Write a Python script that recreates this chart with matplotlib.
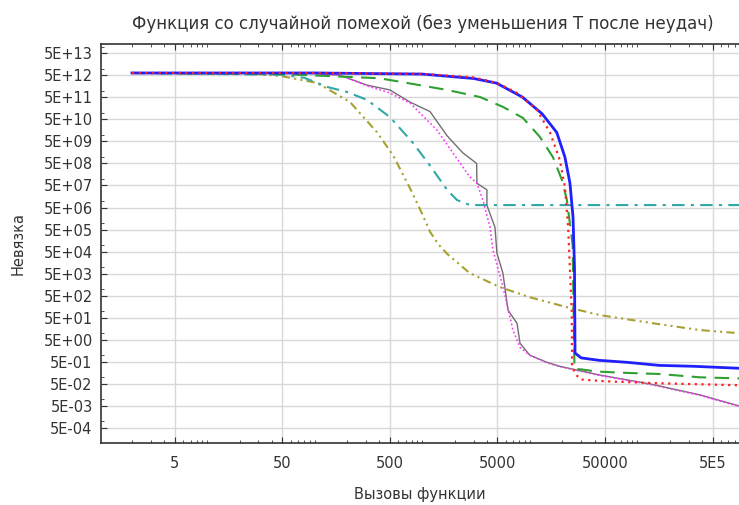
import numpy as np
import matplotlib
matplotlib.use("Agg")
import matplotlib.pyplot as plt
from matplotlib.ticker import FixedLocator, FixedFormatter, LogLocator, NullFormatter

# values: x = function calls, y given as log10 of the residual
blue_x = [2, 100, 1000, 3000, 4900, 8500, 13000, 17800, 21200, 23600, 25200, 26000, 26300,
          30000, 44000, 80000, 1.6e5, 3.3e5, 8.8e5]
blue_ly = [12.8, 12.8, 12.75, 12.55, 12.34, 11.71, 10.95, 10.1, 8.98, 7.8, 6.26, 4.0, 0.1,
           -0.12, -0.23, -0.32, -0.46, -0.5, -0.59]

red_x = [2, 100, 1000, 3000, 5000, 7600, 11700, 15500, 19000, 21200, 22700, 24500, 24700,
         27000, 30000, 50000, 1.6e5, 8.8e5]
red_ly = [12.8, 12.8, 12.76, 12.6, 12.34, 11.89, 11.12, 10.07, 8.85, 7.62, 5.8, 2.0, -0.5,
          -0.9, -1.1, -1.18, -1.27, -1.36]

green_x = [2, 50, 400, 660, 1700, 3440, 5630, 8630, 12400, 16400, 19900, 22100, 25000, 26000,
           30000, 42000, 80000, 1.6e5, 3.8e5, 8.8e5]
green_ly = [12.8, 12.75, 12.56, 12.38, 12.03, 11.71, 11.26, 10.76, 9.9, 8.98, 7.94, 7.04, 5.0, -0.62,
            -0.64, -0.74, -0.8, -0.85, -1.0, -1.05]

teal_x = [2, 50, 80, 130, 199, 306, 500, 819, 1180, 1700, 2100, 2770, 8.8e5]
teal_ly = [12.8, 12.72, 12.58, 12.17, 11.94, 11.58, 10.8, 9.63, 8.6, 7.5, 7.04, 6.81, 6.81]

olive_x = [2, 30, 50, 105, 212, 378, 533, 768, 1000, 1180, 1400, 1700, 2770, 5270, 10000,
           22100, 44900, 140000, 383000, 883000]
olive_ly = [12.8, 12.75, 12.65, 12.35, 11.49, 10.12, 9.08, 7.58, 6.4, 5.6, 5.05, 4.6, 3.72,
            3.09, 2.63, 2.18, 1.82, 1.45, 1.14, 1.0]

gray_x = [2, 100, 171, 306, 500, 768, 1180, 1700, 2390, 3200, 3220, 3990, 3990, 4740, 4940,
          5620, 6270, 7600, 8100, 10000, 14400, 19000, 44900, 131000, 383000, 883000]
gray_ly = [12.8, 12.78, 12.7, 12.25, 12.03, 11.48, 11.05, 9.95, 9.17, 8.7, 7.8, 7.5, 6.8, 5.8,
           4.63, 3.72, 2.04, 1.45, 0.54, 0.0, -0.32, -0.5, -0.9, -1.3, -1.8, -2.3]

magenta_x = [2, 100, 171, 306, 500, 768, 1370, 1930, 2770, 3220, 3660, 4260, 4540, 5630,
             6960, 8100, 10000, 14400, 19000, 44900, 131000, 383000, 883000]
magenta_ly = [12.8, 12.78, 12.7, 12.22, 11.89, 11.44, 10.21, 9.17, 8.08, 7.8, 7.04, 5.81, 4.77,
              3.09, 1.14, 0.36, 0.0, -0.34, -0.52, -0.92, -1.32, -1.82, -2.32]

x_ticks = [5, 50, 500, 5000, 50000, 5e5]
x_tick_labels = ["5", "50", "500", "5000", "50000", "5E5"]
y_exps = list(range(-4, 14))

title = "Функция со случайной помехой (без уменьшения T после неудач)"
xlabel = "Вызовы функции"
ylabel = "Невязка"

fig = plt.figure(figsize=(7.39, 5.05), dpi=100)
ax = fig.add_axes([101 / 739, 62 / 505, 638 / 739, 399 / 505])

tc = "#333333"
ax.plot(gray_x, 10.0 ** np.array(gray_ly), color="#707070", lw=1.0)
ax.plot(magenta_x, 10.0 ** np.array(magenta_ly), color="#ff33ff", lw=1.2, ls=(0, (1, 1.5)))
ax.plot(olive_x, 10.0 ** np.array(olive_ly), color="#a8a030", lw=1.5,
        ls=(0, (4, 2, 1, 2, 1, 2)))
ax.plot(teal_x, 10.0 ** np.array(teal_ly), color="#30a8a8", lw=1.5, ls=(0, (6, 3, 1.5, 3)))
ax.plot(green_x, 10.0 ** np.array(green_ly), color="#30a030", lw=1.5, ls=(0, (7, 4)))
ax.plot(blue_x, 10.0 ** np.array(blue_ly), color="#2020ff", lw=2.0)
ax.plot(red_x, 10.0 ** np.array(red_ly), color="#ff2020", lw=1.6, ls=(0, (1, 2)))

ax.set_xscale("log")
ax.set_yscale("log")
ax.set_xlim(1.03, 8.8e5)
ax.set_ylim(1.05e-4, 1.3e14)

ax.xaxis.set_major_locator(FixedLocator(x_ticks))
ax.xaxis.set_major_formatter(FixedFormatter(x_tick_labels))
ax.xaxis.set_minor_locator(LogLocator(base=10, subs=np.arange(1, 10), numticks=20))
ax.xaxis.set_minor_formatter(NullFormatter())

ax.yaxis.set_major_locator(FixedLocator([5 * 10.0 ** e for e in y_exps]))
ax.yaxis.set_major_formatter(FixedFormatter(["5E%+03d" % e for e in y_exps]))
ax.yaxis.set_minor_locator(FixedLocator([10.0 ** e for e in range(-3, 15)]))
ax.yaxis.set_minor_formatter(NullFormatter())

ax.grid(True, which="major", color="#d8d8d8", lw=1.0)
ax.set_axisbelow(True)
ax.tick_params(which="both", direction="in", top=True, right=False, colors=tc,
               labelsize=10.5, labelcolor=tc)
ax.tick_params(which="major", length=4)
ax.tick_params(axis="x", which="major", pad=9)
ax.tick_params(axis="y", which="major", pad=6)
ax.tick_params(which="minor", length=2.5)
for s in ["left", "bottom", "top"]:
    ax.spines[s].set_color("#333333")
    ax.spines[s].set_linewidth(1.2)
ax.spines["right"].set_visible(False)

ax.set_title(title, fontsize=12, color=tc, pad=11, x=0.505)
ax.set_xlabel(xlabel, fontsize=10.5, color=tc, labelpad=12)
ax.set_ylabel(ylabel, fontsize=10.5, color=tc, labelpad=13)

fig.savefig("out.png", dpi=100)
